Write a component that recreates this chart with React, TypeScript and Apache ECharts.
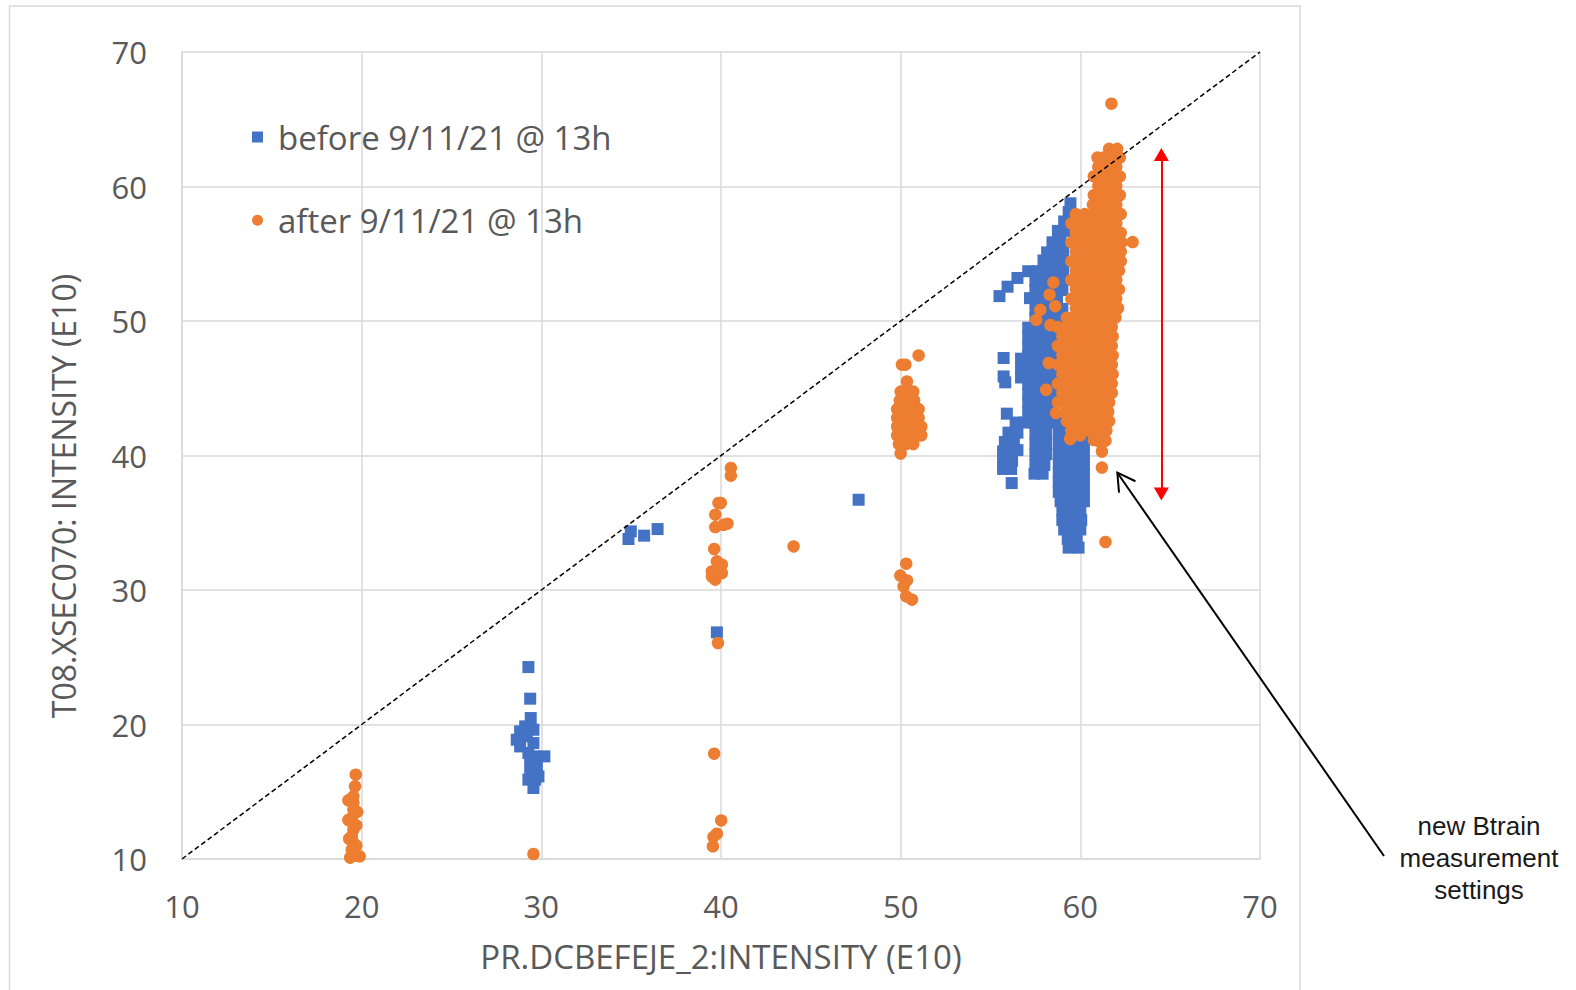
import React, { useEffect, useRef } from "react";
import * as echarts from "echarts";

const seriesNames = ["before 9/11/21 @ 13h", "after 9/11/21 @ 13h"];
const xAxisTitle = "PR.DCBEFEJE_2:INTENSITY (E10)";
const yAxisTitle = "T08.XSEC070: INTENSITY (E10)";
const annotationText = "new Btrain\nmeasurement\nsettings";
const axisMin = 10;
const axisMax = 70;
const axisStep = 10;

// blue squares outside the big cluster
const beforeSmall = [
  [29.28, 24.27], [29.38, 21.92], [29.41, 20.48], [29.1, 19.86], [29.56, 19.61], [28.82, 19.49],
  [29.19, 19.12], [28.63, 18.87], [29.56, 18.62], [28.82, 18.37], [29.28, 17.88], [29.65, 17.63],
  [30.17, 17.63], [29.38, 17.3], [29.75, 16.88], [29.38, 16.51], [29.84, 16.14], [29.28, 15.9],
  [29.65, 15.9], [29.56, 15.28],
  [34.85, 33.79], [34.98, 34.36], [35.72, 34.04], [36.47, 34.53],
  [39.77, 26.85], [47.66, 36.71],
];

// blue squares of the big cluster near 60
const beforeMain = [
  [59.45, 58.75], [59.35, 58.1], [59.1, 57.4], [58.75, 56.7], [59.15, 56.7], [58.45, 55.85], [58.9, 55.9],
  [58.15, 55.1], [58.6, 55.1], [59.05, 55.1], [57.95, 54.5], [58.45, 54.4], [58.9, 54.4],
  [57.1, 53.7], [57.6, 53.7], [58.1, 53.7], [58.6, 53.7], [59.05, 53.7], [56.5, 53.2],
  [57.5, 53.0], [58.0, 53.0], [58.5, 53.0], [59.0, 53.0], [55.95, 52.55],
  [57.5, 52.3], [58.0, 52.3], [58.5, 52.3], [59.0, 52.3], [55.5, 51.85],
  [57.2, 51.7], [57.7, 51.6], [58.2, 51.6], [58.7, 51.6],
  [57.5, 50.9], [58.0, 50.9], [58.5, 50.9], [59.0, 50.9],
  [57.5, 50.2], [58.0, 50.2], [58.5, 50.2], [59.0, 50.2],
  [57.1, 49.5], [57.6, 49.5], [58.1, 49.5], [58.5, 49.5],
  [57.1, 48.8], [57.6, 48.8], [58.1, 48.8], [58.5, 48.8],
  [57.1, 48.1], [57.6, 48.1], [58.1, 48.1], [58.5, 48.1],
  [57.1, 47.4], [57.6, 47.4], [58.1, 47.4], [58.5, 47.4],
  [57.1, 46.7], [57.6, 46.7], [58.1, 46.7], [58.5, 46.7],
  [57.1, 46.0], [57.6, 46.0], [58.1, 46.0], [58.5, 46.0],
  [57.1, 45.3], [57.6, 45.3], [58.1, 45.3], [58.5, 45.3],
  [57.1, 44.6], [57.6, 44.6], [58.1, 44.6], [58.5, 44.6],
  [57.1, 43.9], [57.6, 43.9], [58.1, 43.9], [58.5, 43.9],
  [57.1, 43.2], [57.6, 43.2], [58.1, 43.2], [58.5, 43.2],
  [56.7, 47.2], [56.7, 46.5], [56.7, 45.8],
  [55.73, 47.25], [55.73, 45.88], [55.82, 45.44], [55.91, 43.11], [56.18, 37.95],
  [56.4, 42.45], [56.9, 42.45], [57.4, 42.45], [57.9, 42.45], [58.4, 42.45], [58.9, 42.45],
  [56.0, 41.7], [56.5, 41.7], [55.8, 41.0], [56.3, 41.0], [55.7, 40.3], [56.2, 40.3], [56.5, 40.4],
  [55.7, 39.6], [56.2, 39.6], [55.7, 39.0], [56.15, 39.0],
  [57.5, 41.65], [58.1, 41.65], [57.5, 40.9], [58.1, 40.9], [57.5, 40.1], [58.1, 40.1],
  [57.5, 39.3], [58.0, 39.3], [57.45, 38.65], [57.9, 38.65],
  [58.8, 41.65], [59.3, 41.65], [59.8, 41.65], [60.2, 41.65],
  [58.8, 40.8], [59.3, 40.8], [59.8, 40.8], [60.2, 40.8],
  [58.8, 40.1], [59.3, 40.1], [59.8, 40.1], [60.2, 40.1],
  [58.8, 39.4], [59.3, 39.4], [59.8, 39.4], [60.2, 39.4],
  [58.8, 38.7], [59.3, 38.7], [59.8, 38.7], [60.2, 38.7],
  [58.8, 38.0], [59.3, 38.0], [59.8, 38.0], [60.2, 38.0],
  [58.8, 37.3], [59.3, 37.3], [59.8, 37.3], [60.2, 37.3],
  [58.9, 36.6], [59.4, 36.6], [59.9, 36.6], [60.2, 36.6],
  [59.0, 35.9], [59.5, 35.9], [60.0, 35.9],
  [59.0, 35.2], [59.5, 35.2], [60.05, 35.2],
  [59.1, 34.5], [59.6, 34.5], [60.0, 34.5],
  [59.3, 33.8], [59.8, 33.8],
  [59.35, 33.15], [59.9, 33.15],
];

// orange circles outside the big cluster
const afterSmall = [
  [19.67, 16.27], [19.63, 15.4], [19.54, 14.66], [19.26, 14.36], [19.54, 14.17], [19.54, 13.68],
  [19.75, 13.5], [19.45, 13.06], [19.26, 12.9], [19.7, 12.5], [19.54, 12.18], [19.45, 11.68],
  [19.3, 11.5], [19.54, 11.19], [19.7, 11.0], [19.45, 10.69], [19.71, 10.25], [19.89, 10.2], [19.36, 10.1],
  [29.56, 10.37],
  [40.55, 39.07], [40.55, 38.5], [39.86, 36.47], [39.99, 36.47], [39.68, 35.6], [39.68, 34.68],
  [40.14, 34.85], [40.36, 34.93], [39.62, 33.05], [39.77, 32.13], [40.05, 31.88], [39.49, 31.38],
  [39.77, 31.5], [40.05, 31.26], [39.68, 30.77], [39.5, 31.0], [39.83, 26.06], [39.62, 17.83],
  [40.01, 12.87], [39.77, 11.88], [39.58, 11.64], [39.55, 10.94],
  [44.04, 33.24],
  [51.0, 47.44], [50.07, 46.75], [50.26, 46.75], [50.35, 45.5],
  [50.0, 44.75], [50.4, 44.75], [50.7, 44.75],
  [49.95, 44.1], [50.35, 44.1], [50.75, 44.1],
  [49.8, 43.45], [50.2, 43.45], [50.6, 43.45], [51.0, 43.45],
  [49.8, 42.8], [50.2, 42.8], [50.6, 42.8], [51.0, 42.8],
  [49.8, 42.15], [50.2, 42.15], [50.6, 42.15], [51.0, 42.15], [51.15, 42.15],
  [49.8, 41.5], [50.2, 41.5], [50.6, 41.5], [51.0, 41.5], [51.15, 41.5],
  [49.9, 40.85], [50.3, 40.85], [50.7, 40.85],
  [50.0, 40.15],
  [50.31, 31.96], [49.98, 31.07], [50.35, 30.71], [50.16, 30.27], [50.31, 29.52], [50.63, 29.28],
  [61.73, 66.16], [62.91, 55.87], [61.2, 40.3], [61.2, 39.1], [61.4, 33.57],
  [58.5, 52.87], [58.29, 51.96], [57.77, 50.83], [57.55, 50.08], [58.33, 49.7], [58.6, 51.1],
  [58.24, 46.88], [58.1, 44.89], [58.65, 43.16], [59.44, 41.22],
];

// orange circles of the big cluster near 61
const afterMain = [
  [61.6, 62.8], [62.05, 62.8],
  [60.95, 62.15], [61.3, 62.15], [61.75, 62.15], [62.2, 62.15],
  [61.0, 61.45], [61.5, 61.45], [62.0, 61.45],
  [60.75, 60.75], [61.25, 60.75], [61.75, 60.75], [62.2, 60.75],
  [61.0, 60.05], [61.5, 60.05], [62.0, 60.05],
  [60.75, 59.35], [61.25, 59.35], [61.75, 59.35], [62.2, 59.35],
  [60.7, 58.65], [61.0, 58.65], [61.5, 58.65], [62.0, 58.65],
  [59.75, 57.95], [60.25, 57.95], [60.75, 57.95], [61.25, 57.95], [61.75, 57.95], [62.25, 57.95],
  [59.5, 57.25], [60.0, 57.25], [60.5, 57.25], [61.0, 57.25], [61.5, 57.25], [62.0, 57.25],
  [59.75, 56.55], [60.25, 56.55], [60.75, 56.55], [61.25, 56.55], [61.75, 56.55], [62.25, 56.55],
  [59.5, 55.85], [60.0, 55.85], [60.5, 55.85], [61.0, 55.85], [61.5, 55.85], [62.0, 55.85], [62.3, 55.85],
  [59.75, 55.15], [60.25, 55.15], [60.75, 55.15], [61.25, 55.15], [61.75, 55.15], [62.25, 55.15],
  [59.5, 54.45], [60.0, 54.45], [60.5, 54.45], [61.0, 54.45], [61.5, 54.45], [62.0, 54.45], [62.25, 54.45],
  [59.75, 53.75], [60.25, 53.75], [60.75, 53.75], [61.25, 53.75], [61.75, 53.75], [62.15, 53.75],
  [59.5, 53.05], [60.0, 53.05], [60.5, 53.05], [61.0, 53.05], [61.5, 53.05], [62.0, 53.05],
  [59.75, 52.35], [60.25, 52.35], [60.75, 52.35], [61.25, 52.35], [61.75, 52.35], [62.15, 52.35],
  [59.5, 51.65], [60.0, 51.65], [60.5, 51.65], [61.0, 51.65], [61.5, 51.65], [62.0, 51.65],
  [59.75, 50.95], [60.25, 50.95], [60.75, 50.95], [61.25, 50.95], [61.75, 50.95], [62.1, 50.95],
  [59.25, 50.25], [59.5, 50.25], [60.0, 50.25], [60.5, 50.25], [61.0, 50.25], [61.5, 50.25], [61.95, 50.25],
  [58.75, 49.55], [59.25, 49.55], [59.75, 49.55], [60.25, 49.55], [60.75, 49.55], [61.25, 49.55], [61.75, 49.55],
  [59.0, 48.85], [59.5, 48.85], [60.0, 48.85], [60.5, 48.85], [61.0, 48.85], [61.5, 48.85], [61.8, 48.85],
  [58.75, 48.15], [59.25, 48.15], [59.75, 48.15], [60.25, 48.15], [60.75, 48.15], [61.25, 48.15], [61.75, 48.15],
  [59.0, 47.45], [59.5, 47.45], [60.0, 47.45], [60.5, 47.45], [61.0, 47.45], [61.5, 47.45], [61.8, 47.45],
  [58.75, 46.75], [59.25, 46.75], [59.75, 46.75], [60.25, 46.75], [60.75, 46.75], [61.25, 46.75], [61.75, 46.75],
  [59.0, 46.05], [59.5, 46.05], [60.0, 46.05], [60.5, 46.05], [61.0, 46.05], [61.5, 46.05], [61.8, 46.05],
  [58.75, 45.35], [59.25, 45.35], [59.75, 45.35], [60.25, 45.35], [60.75, 45.35], [61.25, 45.35], [61.75, 45.35],
  [59.0, 44.65], [59.5, 44.65], [60.0, 44.65], [60.5, 44.65], [61.0, 44.65], [61.5, 44.65], [61.75, 44.65],
  [58.75, 43.95], [59.25, 43.95], [59.75, 43.95], [60.25, 43.95], [60.75, 43.95], [61.25, 43.95], [61.6, 43.95],
  [59.2, 43.25], [59.6, 43.25], [60.0, 43.25], [60.5, 43.25], [61.0, 43.25], [61.55, 43.25],
  [59.25, 42.55], [59.75, 42.55], [60.25, 42.55], [60.75, 42.55], [61.25, 42.55], [61.6, 42.55],
  [59.5, 41.85], [60.0, 41.85], [60.5, 41.85], [61.0, 41.85], [61.45, 41.85],
  [59.45, 41.3], [60.0, 41.5], [60.75, 41.15], [61.1, 41.0], [61.4, 41.1],
];

const diagonal = [[10, 10], [70, 70]];
const redArrow = [[64.51, 62.38], [64.51, 37.14]];
const annotationHead = [62.06, 38.72];
const annotationTail = [1384, 856];

const FONT = "'Open Sans', sans-serif";
const GRAY = "#595959";
const GRID = "#d9d9d9";

export default function App() {
  const ref = useRef<HTMLDivElement>(null);

  useEffect(() => {
    if (!ref.current) return;
    const chart = echarts.init(ref.current, null, { renderer: "svg" });
    const axisCommon = {
      type: "value",
      min: axisMin,
      max: axisMax,
      interval: axisStep,
      axisLine: { show: true, lineStyle: { color: GRID, width: 1.5 } },
      axisTick: { show: false },
      splitLine: { show: true, lineStyle: { color: GRID, width: 1.5 } },
      nameLocation: "middle",
      nameTextStyle: { fontSize: 33, color: GRAY, fontFamily: FONT },
    };
    chart.setOption({
      animation: false,
      textStyle: { fontFamily: FONT },
      grid: { left: 182, right: 316, top: 52, bottom: 131, outerBoundsMode: "none", containLabel: false },
      legend: {
        orient: "vertical",
        left: 252,
        top: 117,
        padding: 0,
        itemWidth: 11,
        itemHeight: 11,
        itemGap: 43.3,
        selectedMode: false,
        data: [
          { name: seriesNames[0], icon: "rect" },
          { name: seriesNames[1], icon: "circle" },
        ],
        textStyle: { fontSize: 33, color: GRAY, fontFamily: FONT, lineHeight: 40, padding: [0, 0, 0, 10] },
      },
      xAxis: {
        ...axisCommon,
        name: xAxisTitle,
        nameGap: 81,
        axisLabel: { fontSize: 31, color: GRAY, fontFamily: FONT, margin: 31 },
      },
      yAxis: {
        ...axisCommon,
        axisLabel: { fontSize: 31, color: GRAY, fontFamily: FONT, margin: 35 },
      },
      series: [
        {
          name: seriesNames[0],
          type: "scatter",
          symbol: "rect",
          symbolSize: 12,
          itemStyle: { color: "#4472C4", opacity: 1 },
          emphasis: { disabled: true },
          data: [...beforeSmall, ...beforeMain],
        },
        {
          name: seriesNames[1],
          type: "scatter",
          symbol: "circle",
          symbolSize: 12.5,
          itemStyle: { color: "#ED7D31", opacity: 1 },
          emphasis: { disabled: true },
          data: [...afterSmall, ...afterMain],
        },
        {
          type: "line",
          data: diagonal,
          symbol: "none",
          silent: true,
          lineStyle: { color: "#000000", width: 1.5, type: [5, 3] },
          markLine: {
            silent: true,
            symbol: ["triangle", "triangle"],
            symbolSize: [15, 13],
            label: { show: false },
            lineStyle: { color: "#FF0000", width: 2, type: "solid" },
            itemStyle: { color: "#FF0000" },
            data: [[{ coord: redArrow[0] }, { coord: redArrow[1] }]],
          },
        },
      ],
    });

    const head = chart.convertToPixel({ gridIndex: 0 }, annotationHead) as number[];
    const dx = annotationTail[0] - head[0];
    const dy = annotationTail[1] - head[1];
    const len = Math.sqrt(dx * dx + dy * dy);
    const ux = dx / len;
    const uy = dy / len;
    const wing = (deg: number) => {
      const a = (deg * Math.PI) / 180;
      const c = Math.cos(a);
      const s = Math.sin(a);
      return [head[0] + 20 * (ux * c - uy * s), head[1] + 20 * (ux * s + uy * c)];
    };

    chart.setOption({
      graphic: [
        {
          type: "rect",
          silent: true,
          shape: { x: 9.5, y: 6, width: 1290.5, height: 1000 },
          style: { fill: "none", stroke: GRID, lineWidth: 1.5 },
        },
        {
          type: "text",
          silent: true,
          x: 63,
          y: 496,
          rotation: Math.PI / 2,
          style: {
            text: yAxisTitle,
            fontSize: 32,
            fontFamily: FONT,
            fill: GRAY,
            align: "center",
            verticalAlign: "middle",
            textAlign: "center",
            textVerticalAlign: "middle",
          },
        },
        {
          type: "line",
          silent: true,
          shape: { x1: annotationTail[0], y1: annotationTail[1], x2: head[0], y2: head[1] },
          style: { stroke: "#000000", lineWidth: 2 },
        },
        {
          type: "polyline",
          silent: true,
          shape: { points: [wing(-30), head, wing(30)] },
          style: { stroke: "#000000", lineWidth: 2, fill: "none" },
        },
        {
          type: "text",
          silent: true,
          x: 1479,
          y: 858,
          style: {
            text: annotationText,
            fontSize: 26,
            fontFamily: "'Liberation Sans', Arial, sans-serif",
            fill: "#1a1a1a",
            align: "center",
            verticalAlign: "middle",
            textAlign: "center",
            textVerticalAlign: "middle",
            lineHeight: 32,
          },
        },
      ],
    });

    return () => chart.dispose();
  }, []);

  return (
    <div
      ref={ref}
      style={{ position: "fixed", left: 0, top: 0, width: 1576, height: 990, background: "#ffffff" }}
    />
  );
}
